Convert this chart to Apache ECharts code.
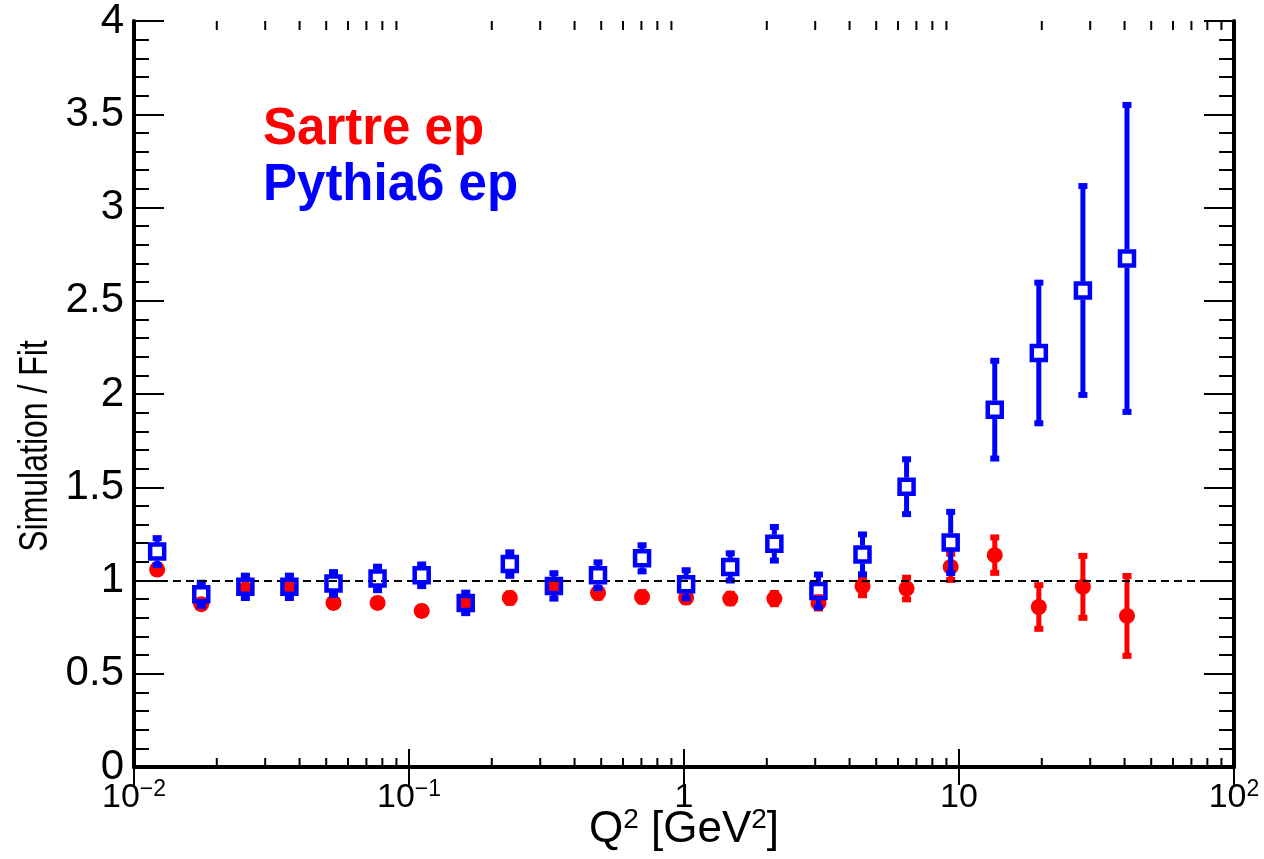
<!DOCTYPE html>
<html><head><meta charset="utf-8">
<script src="https://cdn.jsdelivr.net/npm/echarts@6/dist/echarts.min.js"></script>
<style>html,body{margin:0;padding:0;background:#fff}#c{width:1264px;height:859px}</style>
</head><body><div id="c"></div>
<script>
// Q^2 bin centres [GeV^2]
const qsq = [0.01214, 0.01756, 0.02541, 0.03674, 0.05314, 0.07686, 0.1112, 0.1608, 0.2326, 0.3365, 0.4867, 0.7039,
             1.018, 1.473, 2.131, 3.082, 4.458, 6.447, 9.327, 13.49, 19.51, 28.22, 40.82];
// Sartre ep : Simulation / Fit
const sartreVal = [1.059, 0.873, 0.952, 0.957, 0.880, 0.880, 0.837, 0.885, 0.906, 0.962, 0.933, 0.912,
                   0.909, 0.903, 0.903, 0.880, 0.969, 0.957, 1.073, 1.136, 0.858, 0.966, 0.810];
const sartreErr = [0.02, 0.02, 0.02, 0.02, 0.02, 0.02, 0.02, 0.025, 0.025, 0.025, 0.025, 0.025,
                   0.025, 0.025, 0.03, 0.03, 0.048, 0.058, 0.07, 0.095, 0.117, 0.166, 0.214];
// Pythia6 ep : Simulation / Fit
const pythiaVal = [1.155, 0.926, 0.966, 0.966, 0.984, 1.011, 1.028, 0.880, 1.088, 0.971, 1.028, 1.119,
                   0.980, 1.073, 1.197, 0.944, 1.140, 1.503, 1.204, 1.916, 2.220, 2.555, 2.727];
const pythiaErr = [0.072, 0.062, 0.060, 0.060, 0.061, 0.063, 0.058, 0.055, 0.063, 0.068, 0.069, 0.070,
                   0.075, 0.073, 0.090, 0.088, 0.107, 0.147, 0.164, 0.262, 0.377, 0.560, 0.823];
// axis ticks
const xMinorTicks = [0.02,0.03,0.04,0.05,0.06,0.07,0.08,0.09, 0.2,0.3,0.4,0.5,0.6,0.7,0.8,0.9,
                     2,3,4,5,6,7,8,9, 20,30,40,50,60,70,80,90];
const yMin = 0, yMax = 4, yStep = 0.5;
const xMin = 0.01, xMax = 100;
const legendNames = ['Sartre ep', 'Pythia6 ep'];
const refLine = 1;

const FONT = "'Liberation Sans', Arial, Helvetica, sans-serif";
const RED = '#ff0000', BLUE = '#0000ff';

function errData(vals, errs) {
  return qsq.map((x, i) => [x, vals[i], vals[i] - errs[i], vals[i] + errs[i]]);
}
function errRender(gap, capW, capH, lineW, color) {
  return function (params, api) {
    const x = api.value(0), v = api.value(1), lo = api.value(2), hi = api.value(3);
    const c = api.coord([x, v]);
    const pl = api.coord([x, lo]);
    const ph = api.coord([x, hi]);
    const ch = [];
    if (ph[1] < c[1] - gap) ch.push({type: 'line', shape: {x1: c[0], y1: c[1] - gap, x2: c[0], y2: ph[1]}, style: {stroke: color, lineWidth: lineW}});
    if (pl[1] > c[1] + gap) ch.push({type: 'line', shape: {x1: c[0], y1: c[1] + gap, x2: c[0], y2: pl[1]}, style: {stroke: color, lineWidth: lineW}});
    ch.push({type: 'rect', shape: {x: ph[0] - capW / 2, y: ph[1] - capH / 2, width: capW, height: capH}, style: {fill: color}});
    ch.push({type: 'rect', shape: {x: pl[0] - capW / 2, y: pl[1] - capH / 2, width: capW, height: capH}, style: {fill: color}});
    return {type: 'group', children: ch};
  };
}
function logLabel(v) {
  const e = Math.round(Math.log10(v));
  if (e === 0) return '{b|1}';
  if (e === 1) return '{b|10}';
  return '{b|10}{s|' + (e < 0 ? '\u2212' : '') + Math.abs(e) + '}';
}

const chart = echarts.init(document.getElementById('c'), null, {renderer: 'canvas'});
const axisCommon = {
  axisLine: {show: true, lineStyle: {color: '#000', width: 4}},
  splitLine: {show: false}
};
chart.setOption({
  animation: false,
  backgroundColor: '#fff',
  grid: {left: 134, right: 30, top: 21, bottom: 92},
  xAxis: [
    Object.assign({}, axisCommon, {
      type: 'log', logBase: 10, min: xMin, max: xMax, splitNumber: 4, position: 'bottom',
      axisTick: {show: true, inside: true, length: 18, lineStyle: {color: '#000', width: 2}},
      axisLabel: {show: true, margin: 11, formatter: logLabel,
        rich: {
          b: {fontFamily: FONT, fontSize: 34, lineHeight: 40, color: '#000'},
          s: {fontFamily: FONT, fontSize: 23, lineHeight: 23, color: '#000', verticalAlign: 'top'}
        }}
    }),
    Object.assign({}, axisCommon, {
      type: 'log', logBase: 10, min: xMin, max: xMax, splitNumber: 4, position: 'top',
      axisTick: {show: true, inside: true, length: 18, lineStyle: {color: '#000', width: 2}},
      axisLabel: {show: false}
    })
  ],
  yAxis: [
    Object.assign({}, axisCommon, {
      type: 'value', min: yMin, max: yMax, interval: yStep, position: 'left',
      axisTick: {show: true, inside: true, length: 30, lineStyle: {color: '#000', width: 2}},
      minorTick: {show: true, splitNumber: 5, length: 15, lineStyle: {color: '#000', width: 2}},
      axisLabel: {show: true, margin: 10, fontFamily: FONT, fontSize: 42, color: '#000',
        formatter: v => String(v)}
    }),
    Object.assign({}, axisCommon, {
      type: 'value', min: yMin, max: yMax, interval: yStep, position: 'right',
      axisTick: {show: true, inside: true, length: 30, lineStyle: {color: '#000', width: 2}},
      minorTick: {show: true, splitNumber: 5, length: 15, lineStyle: {color: '#000', width: 2}},
      axisLabel: {show: false}
    })
  ],
  graphic: [
    {type: 'text', x: 36, y: 446, rotation: Math.PI / 2, scaleX: 0.78, silent: true,
      style: {text: 'Simulation / Fit', font: '41px ' + FONT, fill: '#000', align: 'center', verticalAlign: 'middle'}},
    {type: 'text', x: 684, y: 830, silent: true,
      style: {text: '{b|Q}{s|2}{b| [GeV}{s|2}{b|]}', align: 'center', verticalAlign: 'middle',
        rich: {
          b: {fontFamily: FONT, fontSize: 44, lineHeight: 48, fill: '#000'},
          s: {fontFamily: FONT, fontSize: 28, lineHeight: 28, fill: '#000', verticalAlign: 'top'}
        }}},
    {type: 'text', x: 263, y: 130, silent: true,
      style: {text: legendNames[0], font: 'bold 51px ' + FONT, fill: RED, align: 'left', verticalAlign: 'middle'}},
    {type: 'text', x: 263, y: 186, silent: true,
      style: {text: legendNames[1], font: 'bold 51px ' + FONT, fill: BLUE, align: 'left', verticalAlign: 'middle'}}
  ],
  series: [
    {
      name: 'minor ticks', type: 'custom', xAxisIndex: 0, yAxisIndex: 0, silent: true, z: 10,
      data: xMinorTicks.map(v => [v, yMin]),
      renderItem: function (params, api) {
        const v = api.value(0);
        const b = api.coord([v, yMin]);
        const t = api.coord([v, yMax]);
        return {type: 'group', children: [
          {type: 'line', shape: {x1: b[0], y1: b[1], x2: b[0], y2: b[1] - 9}, style: {stroke: '#000', lineWidth: 2}},
          {type: 'line', shape: {x1: t[0], y1: t[1], x2: t[0], y2: t[1] + 9}, style: {stroke: '#000', lineWidth: 2}}
        ]};
      }
    },
    {
      name: 'ref', type: 'line', data: [], z: 1, silent: true,
      markLine: {silent: true, symbol: ['none', 'none'], label: {show: false},
        lineStyle: {color: '#000', type: [8, 5], width: 2},
        data: [{yAxis: refLine}]}
    },
    {
      name: 'Sartre ep err', type: 'custom', z: 2, silent: true,
      encode: {x: 0, y: 1},
      data: errData(sartreVal, sartreErr),
      renderItem: errRender(7, 9, 6, 5, RED)
    },
    {
      name: legendNames[0], type: 'scatter', z: 3, symbol: 'circle', symbolSize: 16,
      itemStyle: {color: RED, opacity: 1},
      data: qsq.map((x, i) => [x, sartreVal[i]])
    },
    {
      name: 'Pythia6 ep err', type: 'custom', z: 4, silent: true,
      encode: {x: 0, y: 1},
      data: errData(pythiaVal, pythiaErr),
      renderItem: errRender(9, 9, 6, 5, BLUE)
    },
    {
      name: legendNames[1], type: 'scatter', z: 5, symbol: 'rect', symbolSize: 14,
      itemStyle: {color: 'rgba(0,0,0,0)', borderColor: BLUE, borderWidth: 4.5, opacity: 1},
      data: qsq.map((x, i) => [x, pythiaVal[i]])
    }
  ]
});
</script>
</body></html>
